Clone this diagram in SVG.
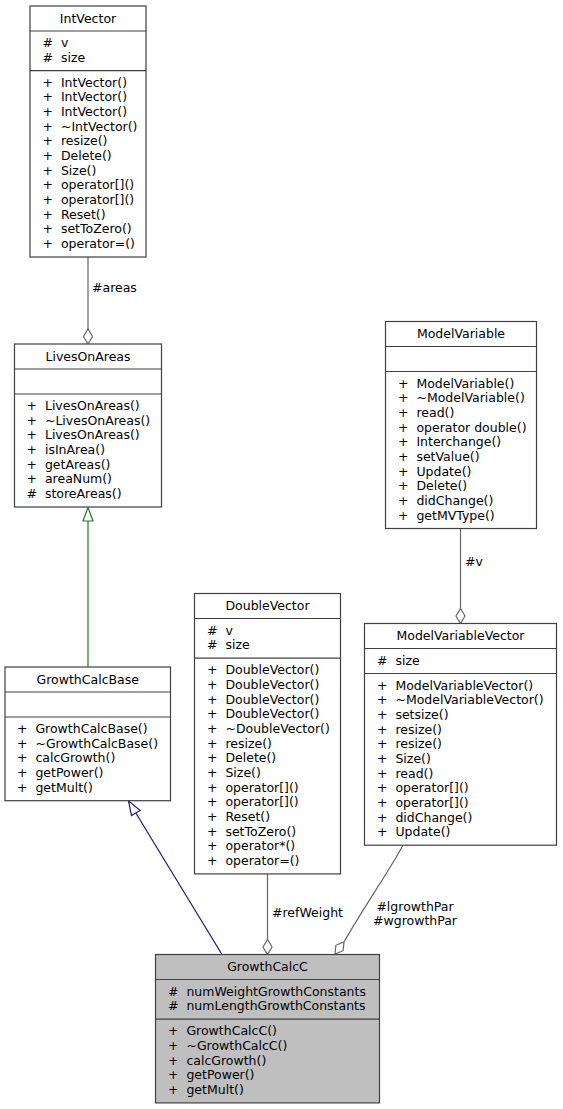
<svg xmlns="http://www.w3.org/2000/svg" width="563" height="1109" viewBox="0 0 563 1109" xml:space="preserve">
<style>
.bg{fill:#ffffff}
.box{fill:#ffffff;stroke:#404040;stroke-width:1.2}
.main{fill:#bfbfbf;stroke:#404040;stroke-width:1.2}
.sep{stroke:#404040;stroke-width:1.2}
text{font-family:"DejaVu Sans","Liberation Sans",sans-serif;font-size:12.5px;fill:#000000;white-space:pre}
.t{text-anchor:middle}
.use{fill:none;stroke:#666666;stroke-width:1.2}
.usehead{fill:#ffffff;stroke:#666666;stroke-width:1.2}
.green{fill:none;stroke:#1f7a1f;stroke-width:1.2}
.greenhead{fill:#ffffff;stroke:#1f7a1f;stroke-width:1.2}
.blue{fill:none;stroke:#191970;stroke-width:1.2}
.bluehead{fill:#ffffff;stroke:#191970;stroke-width:1.2}
</style>
<rect class="bg" x="0" y="0" width="563" height="1109"/>
<g id="connectors">
<line class="use" x1="88" y1="257" x2="88" y2="329"/>
<polygon class="usehead" points="88,344 92.5,336.5 88,329 83.5,336.5"/>
<text x="92" y="292">#areas</text>
<line class="green" x1="88" y1="521" x2="88" y2="667"/>
<polygon class="greenhead" points="88,507.5 93,521 83,521"/>
<line class="blue" x1="135.8" y1="813" x2="222" y2="954.5"/>
<polygon class="bluehead" points="128.5,801 140.1,810.4 131.5,815.6"/>
<line class="use" x1="267.5" y1="874" x2="267.5" y2="939.5"/>
<polygon class="usehead" points="267.5,954.5 272,947 267.5,939.5 263,947"/>
<text x="272" y="917">#refWeight</text>
<line class="use" x1="460.5" y1="528.5" x2="460.5" y2="608.5"/>
<polygon class="usehead" points="460.5,623.5 465,616 460.5,608.5 456,616"/>
<text x="465" y="566">#v</text>
<path class="use" d="M403,845 C390,870 365,905 344,942"/>
<polygon class="usehead" points="335,954 335.9,945.3 344,942 343.1,950.7"/>
<text class="t" x="415" y="911">#lgrowthPar</text>
<text class="t" x="415" y="925">#wgrowthPar</text>
</g>
<g id="IntVector">
<rect class="box" x="30" y="6" width="116" height="251"/>
<line class="sep" x1="30" y1="31" x2="146" y2="31"/>
<line class="sep" x1="30" y1="70.7" x2="146" y2="70.7"/>
<text class="t" x="88" y="22.5">IntVector</text>
<text x="42.5" y="47">#  v</text>
<text x="42.5" y="61.7">#  size</text>
<text x="42.5" y="86.7">+  IntVector()</text>
<text x="42.5" y="101.4">+  IntVector()</text>
<text x="42.5" y="116">+  IntVector()</text>
<text x="42.5" y="130.7">+  ~IntVector()</text>
<text x="42.5" y="145.4">+  resize()</text>
<text x="42.5" y="160.1">+  Delete()</text>
<text x="42.5" y="174.7">+  Size()</text>
<text x="42.5" y="189.4">+  operator[]()</text>
<text x="42.5" y="204.1">+  operator[]()</text>
<text x="42.5" y="218.7">+  Reset()</text>
<text x="42.5" y="233.4">+  setToZero()</text>
<text x="42.5" y="248.1">+  operator=()</text>
</g>
<g id="LivesOnAreas">
<rect class="box" x="14.5" y="344" width="147" height="163"/>
<line class="sep" x1="14.5" y1="369" x2="161.5" y2="369"/>
<line class="sep" x1="14.5" y1="394" x2="161.5" y2="394"/>
<text class="t" x="88" y="360.5">LivesOnAreas</text>
<text x="26.5" y="410">+  LivesOnAreas()</text>
<text x="26.5" y="424.7">+  ~LivesOnAreas()</text>
<text x="26.5" y="439.3">+  LivesOnAreas()</text>
<text x="26.5" y="454">+  isInArea()</text>
<text x="26.5" y="468.7">+  getAreas()</text>
<text x="26.5" y="483.4">+  areaNum()</text>
<text x="26.5" y="498">#  storeAreas()</text>
</g>
<g id="GrowthCalcBase">
<rect class="box" x="5" y="667" width="165.5" height="133.7"/>
<line class="sep" x1="5" y1="692" x2="170.5" y2="692"/>
<line class="sep" x1="5" y1="717" x2="170.5" y2="717"/>
<text class="t" x="87.75" y="683.5">GrowthCalcBase</text>
<text x="17" y="733">+  GrowthCalcBase()</text>
<text x="17" y="747.7">+  ~GrowthCalcBase()</text>
<text x="17" y="762.3">+  calcGrowth()</text>
<text x="17" y="777">+  getPower()</text>
<text x="17" y="791.7">+  getMult()</text>
</g>
<g id="DoubleVector">
<rect class="box" x="194.5" y="593.5" width="146" height="280.4"/>
<line class="sep" x1="194.5" y1="618.5" x2="340.5" y2="618.5"/>
<line class="sep" x1="194.5" y1="658.2" x2="340.5" y2="658.2"/>
<text class="t" x="267.5" y="610">DoubleVector</text>
<text x="207" y="634.5">#  v</text>
<text x="207" y="649.2">#  size</text>
<text x="207" y="674.2">+  DoubleVector()</text>
<text x="207" y="688.9">+  DoubleVector()</text>
<text x="207" y="703.5">+  DoubleVector()</text>
<text x="207" y="718.2">+  DoubleVector()</text>
<text x="207" y="732.9">+  ~DoubleVector()</text>
<text x="207" y="747.6">+  resize()</text>
<text x="207" y="762.2">+  Delete()</text>
<text x="207" y="776.9">+  Size()</text>
<text x="207" y="791.6">+  operator[]()</text>
<text x="207" y="806.2">+  operator[]()</text>
<text x="207" y="820.9">+  Reset()</text>
<text x="207" y="835.6">+  setToZero()</text>
<text x="207" y="850.3">+  operator*()</text>
<text x="207" y="864.9">+  operator=()</text>
</g>
<g id="ModelVariable">
<rect class="box" x="385.5" y="321.5" width="151" height="207"/>
<line class="sep" x1="385.5" y1="346.5" x2="536.5" y2="346.5"/>
<line class="sep" x1="385.5" y1="371.5" x2="536.5" y2="371.5"/>
<text class="t" x="461" y="338">ModelVariable</text>
<text x="398" y="387.5">+  ModelVariable()</text>
<text x="398" y="402.2">+  ~ModelVariable()</text>
<text x="398" y="416.8">+  read()</text>
<text x="398" y="431.5">+  operator double()</text>
<text x="398" y="446.2">+  Interchange()</text>
<text x="398" y="460.9">+  setValue()</text>
<text x="398" y="475.5">+  Update()</text>
<text x="398" y="490.2">+  Delete()</text>
<text x="398" y="504.9">+  didChange()</text>
<text x="398" y="519.5">+  getMVType()</text>
</g>
<g id="ModelVariableVector">
<rect class="box" x="364.5" y="623.5" width="192" height="221.7"/>
<line class="sep" x1="364.5" y1="648.5" x2="556.5" y2="648.5"/>
<line class="sep" x1="364.5" y1="673.5" x2="556.5" y2="673.5"/>
<text class="t" x="460.5" y="640">ModelVariableVector</text>
<text x="377" y="664.5">#  size</text>
<text x="377" y="689.5">+  ModelVariableVector()</text>
<text x="377" y="704.2">+  ~ModelVariableVector()</text>
<text x="377" y="718.8">+  setsize()</text>
<text x="377" y="733.5">+  resize()</text>
<text x="377" y="748.2">+  resize()</text>
<text x="377" y="762.9">+  Size()</text>
<text x="377" y="777.5">+  read()</text>
<text x="377" y="792.2">+  operator[]()</text>
<text x="377" y="806.9">+  operator[]()</text>
<text x="377" y="821.5">+  didChange()</text>
<text x="377" y="836.2">+  Update()</text>
</g>
<g id="GrowthCalcC">
<rect class="main" x="155.5" y="954.5" width="224" height="148.4"/>
<line class="sep" x1="155.5" y1="979.5" x2="379.5" y2="979.5"/>
<line class="sep" x1="155.5" y1="1019.2" x2="379.5" y2="1019.2"/>
<text class="t" x="267.5" y="971">GrowthCalcC</text>
<text x="168" y="995.5">#  numWeightGrowthConstants</text>
<text x="168" y="1010.2">#  numLengthGrowthConstants</text>
<text x="168" y="1035.2">+  GrowthCalcC()</text>
<text x="168" y="1049.9">+  ~GrowthCalcC()</text>
<text x="168" y="1064.5">+  calcGrowth()</text>
<text x="168" y="1079.2">+  getPower()</text>
<text x="168" y="1093.9">+  getMult()</text>
</g>
</svg>
